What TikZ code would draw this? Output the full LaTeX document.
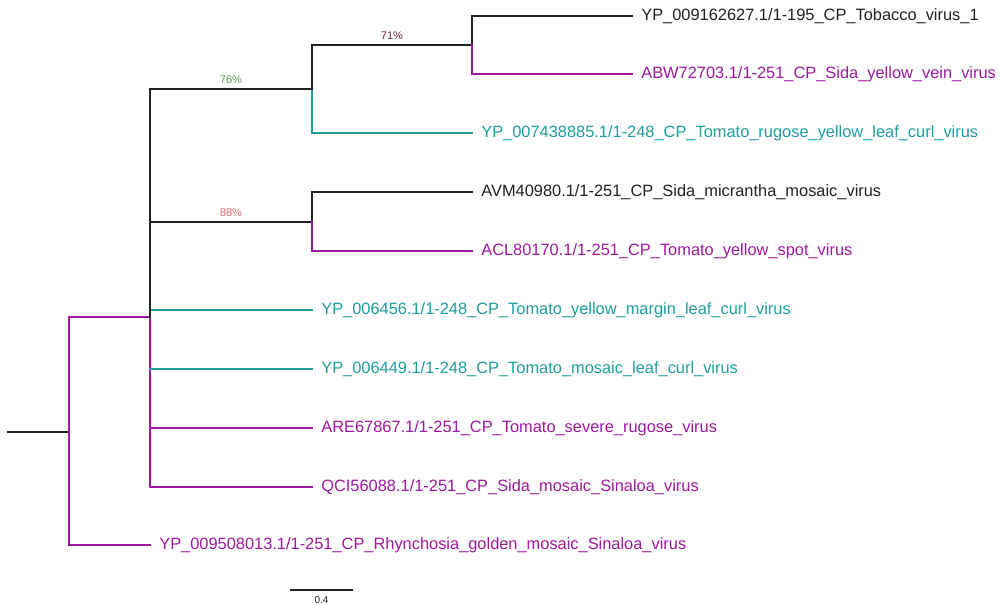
\documentclass[tikz,border=0pt]{standalone}
\usepackage{fontspec}
\setmainfont{Liberation Sans}
\usepackage{xcolor}
\usetikzlibrary{positioning, calc}
\definecolor{blk}{HTML}{222222}
\definecolor{prp}{HTML}{A0189F}
\definecolor{tea}{HTML}{1E9E9E}
\definecolor{bsred}{HTML}{E06A6A}
\definecolor{bsgrn}{HTML}{5E9A5A}
\definecolor{bsbrn}{HTML}{6E2C2C}

\begin{document}
\begin{tikzpicture}[
    x=0.75pt, y=-0.75pt,
    br/.style={line width=1.3pt, line cap=rect},
    leaf/.style={anchor=west, font=\fontsize{12.3}{14}\selectfont, inner xsep=6.8pt, inner ysep=0pt},
    boot/.style={font=\fontsize{8.3}{10}\selectfont, inner sep=3.5pt}
]
\useasboundingbox (0,0) rectangle (1000,605);

% inner nodes
\coordinate (root) at (8,432);
\coordinate (n0) at (69,432);
\coordinate (n1) at (150,317);
\coordinate (n76) at (312,89);
\coordinate (n88) at (312,222);
\coordinate (n71) at (472,45);

% leaves
\node[leaf, text=blk] (l1) at (632,16) {YP\_009162627.1/1-195\_CP\_Tobacco\_virus\_1};
\node[leaf, text=prp] (l2) at (632,74) {ABW72703.1/1-251\_CP\_Sida\_yellow\_vein\_virus};
\node[leaf, text=tea] (l3) at (472,133) {YP\_007438885.1/1-248\_CP\_Tomato\_rugose\_yellow\_leaf\_curl\_virus};
\node[leaf, text=blk] (l4) at (472,192) {AVM40980.1/1-251\_CP\_Sida\_micrantha\_mosaic\_virus};
\node[leaf, text=prp] (l5) at (472,251) {ACL80170.1/1-251\_CP\_Tomato\_yellow\_spot\_virus};
\node[leaf, text=tea] (l6) at (312,310) {YP\_006456.1/1-248\_CP\_Tomato\_yellow\_margin\_leaf\_curl\_virus};
\node[leaf, text=tea] (l7) at (312,369) {YP\_006449.1/1-248\_CP\_Tomato\_mosaic\_leaf\_curl\_virus};
\node[leaf, text=prp] (l8) at (312,428) {ARE67867.1/1-251\_CP\_Tomato\_severe\_rugose\_virus};
\node[leaf, text=prp] (l9) at (312,487) {QCI56088.1/1-251\_CP\_Sida\_mosaic\_Sinaloa\_virus};
\node[leaf, text=prp] (l10) at (150,545) {YP\_009508013.1/1-251\_CP\_Rhynchosia\_golden\_mosaic\_Sinaloa\_virus};

% branches
\draw[br, blk] (root) -- (n0);
\draw[br, prp] (n0) |- (n1);
\draw[br, prp] (n0) |- (l10.west);
\draw[br, prp] (n1) |- (l8.west);
\draw[br, prp] (n1) |- (l9.west);
\draw[br, tea] (l6.west -| n1) -- (l6.west);
\draw[br, tea] (l7.west -| n1) -- (l7.west);
\draw[br, blk] (n1) |- (n76);
\draw[br, blk] (n1) |- (n88);
\draw[br, tea] (n76) |- (l3.west);
\draw[br, blk] (n76) |- (n71);
\draw[br, blk] (n71) |- (l1.west);
\draw[br, prp] (n71) |- (l2.west);
\draw[br, blk] (n88) |- (l4.west);
\draw[br, prp] (n88) |- (l5.west);

% bootstrap values
\node[boot, text=bsgrn, anchor=south] (b76) at ($(n76 -| n1)!0.5!(n76)$) {76\%};
\node[boot, text=bsred, anchor=south] (b88) at ($(n88 -| n1)!0.5!(n88)$) {88\%};
\node[boot, text=bsbrn, anchor=south] (b71) at ($(n71 -| n76)!0.5!(n71)$) {71\%};

% scale bar
\coordinate (sb1) at (290,590);
\coordinate (sb2) at (353,590);
\draw[blk, line width=0.8pt] (sb1) -- (sb2);
\node[font=\fontsize{7.5}{9}\selectfont, text=blk, below=3.5pt of $(sb1)!0.5!(sb2)$, inner sep=1pt] (sbl) {0.4};
\end{tikzpicture}
\end{document}
